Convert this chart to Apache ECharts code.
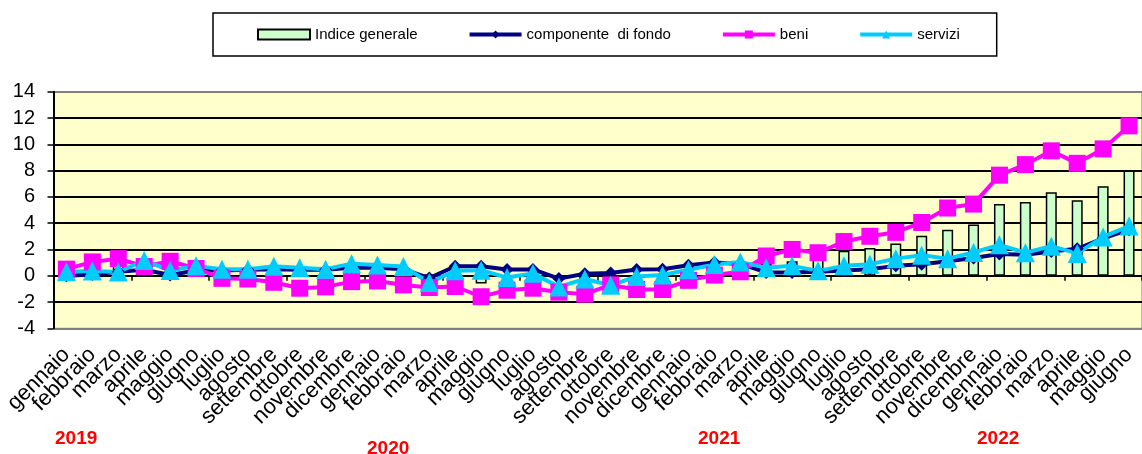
<!DOCTYPE html>
<html><head><meta charset="utf-8">
<script src="https://cdn.jsdelivr.net/npm/echarts@6/dist/echarts.min.js"></script>
<style>html,body{margin:0;padding:0;background:#fff;overflow:hidden}#c{width:1142px;height:454px}</style>
</head><body><div id="c"></div>
<script>
const categories = [
 'gennaio','febbraio','marzo','aprile','maggio','giugno','luglio','agosto','settembre','ottobre','novembre','dicembre',
 'gennaio','febbraio','marzo','aprile','maggio','giugno','luglio','agosto','settembre','ottobre','novembre','dicembre',
 'gennaio','febbraio','marzo','aprile','maggio','giugno','luglio','agosto','settembre','ottobre','novembre','dicembre',
 'gennaio','febbraio','marzo','aprile','maggio','giugno'
];
const years = ['2019','2020','2021','2022'];
const seriesNames = ['Indice generale','componente  di fondo','beni','servizi'];
const indice = [0.8,0.8,0.9,1.0,0.8,0.6,0.3,0.3,0.2,0.1,0.1,0.4,
 0.5,0.3,0.1,0.0,-0.6,-0.2,-0.2,-0.3,-0.4,-0.2,-0.2,-0.1,
 0.3,0.5,0.7,0.9,1.1,1.3,1.9,2.1,2.45,3.05,3.5,3.9,
 5.45,5.6,6.35,5.75,6.8,8.0];
const componente = [0.0,0.1,0.3,0.45,0.05,0.4,0.4,0.45,0.5,0.45,0.45,0.6,
 0.6,0.5,-0.18,0.72,0.72,0.48,0.48,-0.22,0.15,0.2,0.48,0.5,
 0.8,1.0,0.9,0.25,0.25,0.3,0.4,0.5,0.75,0.87,1.1,1.35,
 1.65,1.6,1.85,2.05,2.85,3.5];
const beni = [0.5,1.05,1.3,0.7,1.1,0.55,-0.2,-0.25,-0.5,-0.95,-0.85,-0.45,
 -0.4,-0.7,-0.9,-0.82,-1.6,-1.1,-0.95,-1.25,-1.4,-0.7,-1.05,-1.05,
 -0.35,0.05,0.3,1.5,2.0,1.75,2.6,3.0,3.3,4.05,5.15,5.45,
 7.65,8.45,9.5,8.55,9.65,11.4];
const servizi = [0.3,0.35,0.28,1.15,0.4,0.75,0.5,0.5,0.72,0.6,0.5,0.92,
 0.82,0.7,-0.52,0.37,0.42,-0.14,0.18,-0.85,-0.25,-0.73,-0.05,0.05,
 0.45,0.85,1.05,0.6,0.75,0.37,0.75,0.87,1.3,1.55,1.3,1.77,
 2.35,1.75,2.25,1.7,2.95,3.78];

const FONT = "'Liberation Sans', Arial, sans-serif";
const chart = echarts.init(document.getElementById('c'), null, {renderer:'canvas'});
const yearPos = [[55,429],[367,439],[698,429],[977,429]];
chart.setOption({
  animation: false,
  backgroundColor: '#fff',
  grid: {left: 53.5, top: 91.7, width: 1097.5, height: 236.6, show: true,
         backgroundColor: '#FFFFCC', borderColor: '#808080', borderWidth: 1},
  legend: {
    left: 213, top: 13, padding: [14, 37, 14, 44],
    borderColor: '#000', borderWidth: 1.5,
    itemGap: 50, itemWidth: 52, itemHeight: 10,
    textStyle: {fontFamily: FONT, fontSize: 15, color: '#000'},
    data: [
      {name: seriesNames[0], icon: 'rect'},
      {name: seriesNames[1], lineStyle: {width: 4}},
      {name: seriesNames[2], lineStyle: {width: 4}},
      {name: seriesNames[3], lineStyle: {width: 4}}
    ]
  },
  xAxis: [
    {type: 'category', data: categories, position: 'bottom',
     axisLine: {show: false, onZero: false}, axisTick: {show: false},
     axisLabel: {interval: 0, rotate: 45, fontSize: 22, margin: 23, color: '#000', fontFamily: FONT},
     splitLine: {show: false}},
    {type: 'category', data: categories, position: 'top',
     axisLine: {show: true, onZero: true, lineStyle: {color: '#000', width: 2}},
     axisTick: {show: true, inside: true, length: 5, lineStyle: {color: '#000', width: 1.5}},
     axisLabel: {show: false}, splitLine: {show: false}}
  ],
  yAxis: {
    type: 'value', min: -4, max: 14, interval: 2,
    axisLine: {show: true, onZero: false, lineStyle: {color: '#000', width: 2}},
    axisTick: {show: true, length: 6, lineStyle: {color: '#000', width: 1.5}},
    axisLabel: {fontSize: 20, margin: 18.5, color: '#000', fontFamily: FONT},
    splitLine: {show: true, lineStyle: {color: ['#808080','#000','#000','#000','#000','#000','#000','#000','#000','#808080'], width: 2}}
  },
  graphic: years.map((y, i) => ({type: 'text', left: yearPos[i][0], top: yearPos[i][1],
     style: {text: y, fill: '#FF0000', font: 'bold 19px ' + FONT}})),
  series: [
    {type: 'bar', name: seriesNames[0], data: indice, barWidth: 11,
     itemStyle: {color: '#CCFFCC', borderColor: '#000', borderWidth: 1.5}},
    {type: 'line', name: seriesNames[1], data: componente, symbol: 'diamond', symbolSize: 13,
     lineStyle: {color: '#000080', width: 4}, itemStyle: {color: '#000080'}},
    {type: 'line', name: seriesNames[2], data: beni, symbol: 'rect', symbolSize: 17,
     lineStyle: {color: '#FF00FF', width: 4}, itemStyle: {color: '#FF00FF'}},
    {type: 'line', name: seriesNames[3], data: servizi, symbol: 'triangle', symbolSize: [19, 19],
     lineStyle: {color: '#00CCFF', width: 4}, itemStyle: {color: '#00CCFF'}}
  ]
});
</script></body></html>
